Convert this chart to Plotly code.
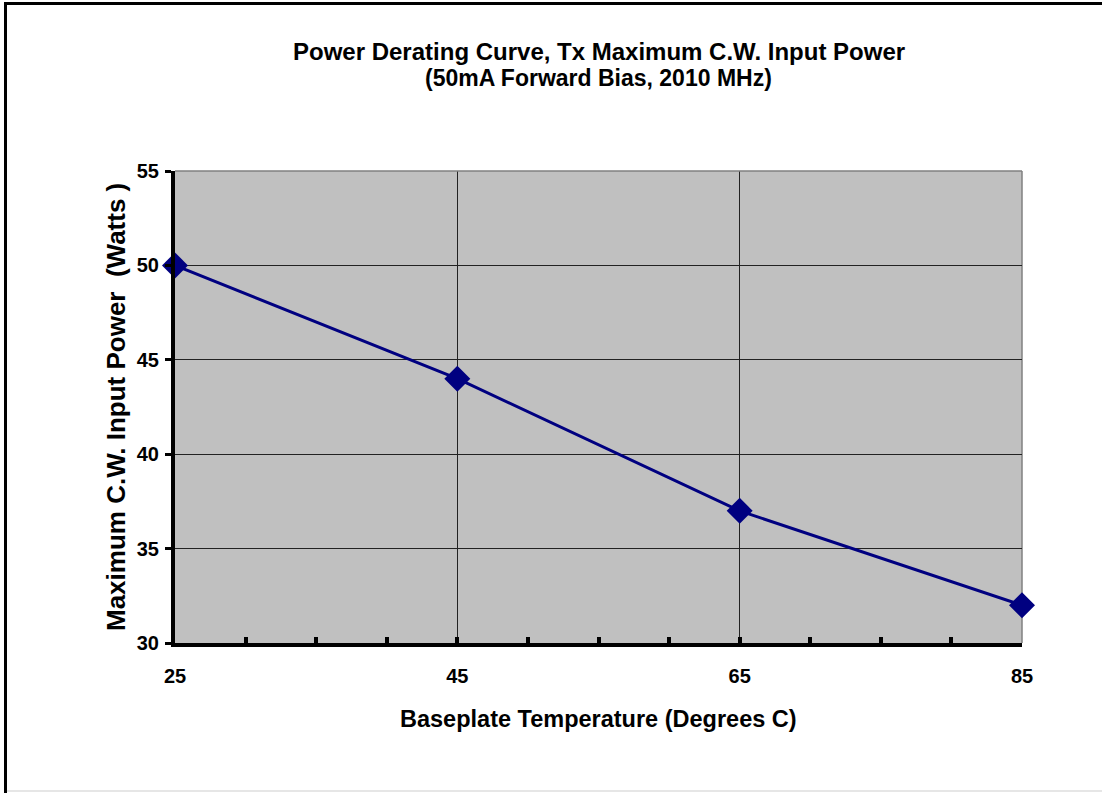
import plotly.graph_objects as go

temps = [25, 45, 65, 85]
power = [50, 44, 37, 32]
x_ticks = [25, 45, 65, 85]
y_ticks = [30, 35, 40, 45, 50, 55]

W, H = 1102, 793
L, R, T, B = 175, 1022, 171, 643

def px(xp):
    return (xp - L) / (R - L)

def py(yp):
    return (B - yp) / (B - T)

FONT = "Liberation Sans, Arial, sans-serif"

fig = go.Figure()
fig.add_trace(go.Scatter(
    x=temps, y=power, mode="lines+markers",
    line=dict(color="#000080", width=3),
    marker=dict(symbol="diamond", size=20, color="#000080"),
    showlegend=False, cliponaxis=False,
))

fig.update_layout(
    width=W, height=H,
    margin=dict(l=L, r=W - R, t=T, b=H - B),
    paper_bgcolor="white",
    plot_bgcolor="#C0C0C0",
    font=dict(family=FONT, color="black"),
    xaxis=dict(
        range=[25, 85], tickvals=x_ticks, ticktext=[str(v) for v in x_ticks],
        showgrid=True, gridcolor="#222222", gridwidth=1,
        showline=True, linecolor="black", linewidth=4,
        ticks="inside", ticklen=6, tickwidth=4, tickcolor="black",
        minor=dict(dtick=5, tick0=25, ticks="inside", ticklen=6, tickwidth=4, tickcolor="black", showgrid=False),
        tickfont=dict(size=20, family=FONT, weight="bold"),
        ticklabelstandoff=12,
        zeroline=False,
    ),
    yaxis=dict(
        range=[30, 55], tickvals=y_ticks,
        showgrid=True, gridcolor="#222222", gridwidth=1,
        showline=True, linecolor="black", linewidth=4,
        ticks="outside", ticklen=6, tickwidth=3, tickcolor="black",
        tickfont=dict(size=20, family=FONT, weight="bold"),
        ticklabelstandoff=2,
        zeroline=False,
    ),
    shapes=[
        dict(type="line", xref="paper", yref="paper", x0=0, x1=1, y0=1, y1=1,
             line=dict(color="#808080", width=1.5), layer="above"),
        dict(type="line", xref="paper", yref="paper", x0=1, x1=1, y0=0, y1=1,
             line=dict(color="#808080", width=1.5), layer="below"),
        dict(type="line", xref="paper", yref="paper", x0=px(5.5), x1=px(5.5), y0=py(2), y1=py(795),
             line=dict(color="black", width=3)),
        dict(type="line", xref="paper", yref="paper", x0=px(4), x1=px(1110), y0=py(3.5), y1=py(3.5),
             line=dict(color="black", width=3)),
        dict(type="line", xref="paper", yref="paper", x0=px(7), x1=px(1110), y0=py(791), y1=py(791),
             line=dict(color="#E6E6E6", width=2)),
    ],
    annotations=[
        dict(text="<b>Power Derating Curve, Tx Maximum C.W. Input Power</b>", x=0.5, y=py(52),
             xref="paper", yref="paper", showarrow=False, xanchor="center", yanchor="middle",
             font=dict(size=24, family=FONT)),
        dict(text="<b>(50mA Forward Bias, 2010 MHz)</b>", x=0.5, y=py(78),
             xref="paper", yref="paper", showarrow=False, xanchor="center", yanchor="middle",
             font=dict(size=23, family=FONT)),
        dict(text="<b>Baseplate Temperature (Degrees C)</b>", x=px(598), y=py(719),
             xref="paper", yref="paper", showarrow=False, xanchor="center", yanchor="middle",
             font=dict(size=23.5, family=FONT)),
        dict(text="<b>Maximum C.W. Input Power&nbsp;&nbsp;(Watts )</b>", x=px(116), y=py(407),
             xref="paper", yref="paper", showarrow=False, xanchor="center", yanchor="middle",
             textangle=-90, font=dict(size=26, family=FONT)),
    ],
)

fig.write_html("out.html", config={"displayModeBar": False},
               post_script="document.body.style.margin='0';document.body.style.padding='0';")
